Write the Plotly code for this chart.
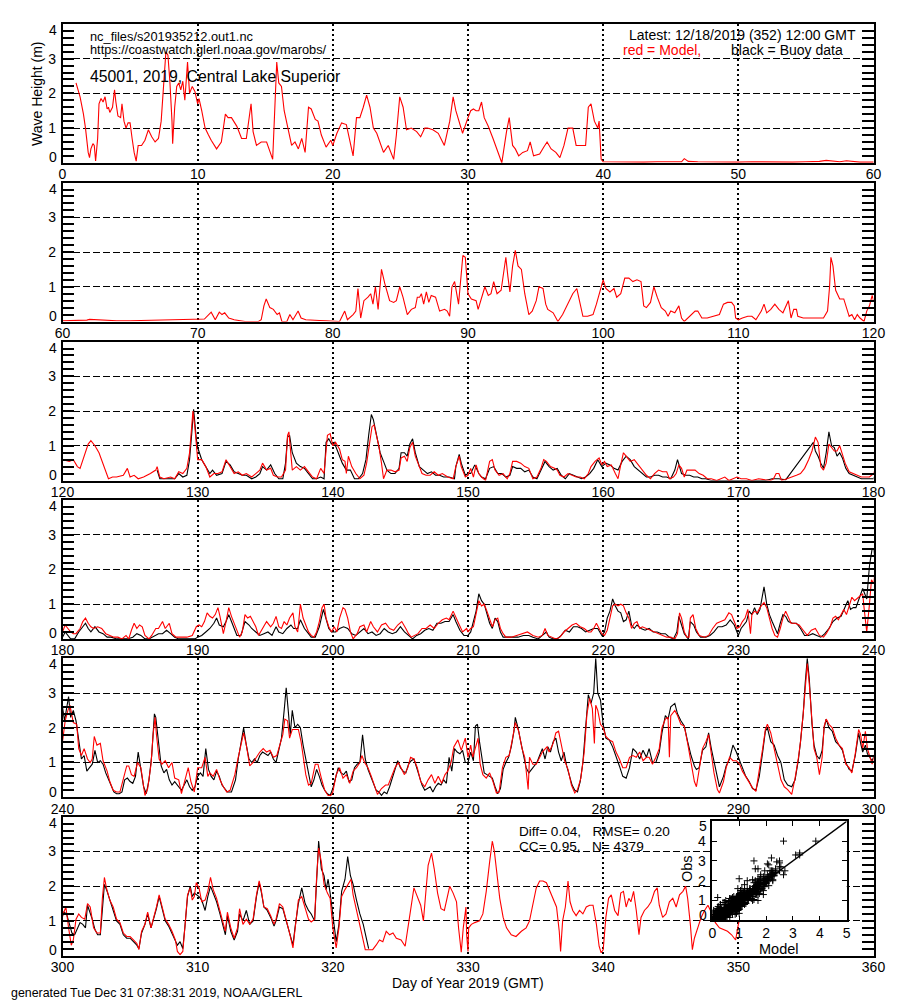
import numpy as np
import plotly.graph_objects as go

FONT = "Liberation Sans, Arial, Helvetica, sans-serif"

# ---------------- data (day of year, significant wave height in m) ----------------
model_p1 = [(1.0,2.3),(1.3,1.9),(1.55,1.4),(1.7,1.0),(1.9,0.3),(2.0,0.15),(2.1,0.4),(2.25,0.55),(2.35,0.5),(2.45,0.05),
 (2.6,0.7),(2.7,1.7),(2.85,1.85),(3.0,1.75),(3.15,1.9),(3.3,1.55),(3.4,1.6),(3.5,1.45),(3.7,1.6),(3.85,2.1),(3.95,1.75),
 (4.1,1.35),(4.3,1.3),(4.4,1.7),(4.55,1.2),(4.7,1.0),(4.85,1.15),(5.0,1.15),(5.15,0.7),(5.3,0.3),(5.45,0.05),(5.6,0.5),
 (5.85,0.5),(6.1,0.65),(6.35,0.95),(6.6,0.75),(6.85,0.6),(7.1,0.7),(7.3,1.2),(7.45,2.0),(7.65,3.2),(7.8,3.1),(7.95,2.3),
 (8.1,1.2),(8.15,0.55),(8.3,1.6),(8.45,2.2),(8.6,2.3),(8.75,2.1),(8.9,2.35),(9.05,1.8),(9.25,2.9),(9.4,2.0),(9.6,2.2),
 (9.8,2.05),(10.0,1.7),(10.1,1.85),(10.3,1.5),(10.55,1.0),(10.8,0.8),(11.0,0.65),(11.4,0.4),(11.75,0.6),(12.05,1.4),
 (12.25,1.3),(12.5,1.3),(12.9,1.05),(13.25,0.7),(13.6,0.7),(13.95,1.7),(14.1,0.9),(14.35,0.5),(14.7,0.6),(15.1,0.6),
 (15.35,0.35),(15.55,0.1),(15.7,1.5),(15.85,2.9),(16.0,2.3),(16.2,2.2),(16.4,1.5),(16.7,0.9),(16.95,0.5),(17.2,0.6),
 (17.45,0.4),(17.7,0.7),(17.95,0.3),(18.2,1.6),(18.4,1.55),(18.7,1.25),(18.9,1.2),(19.15,0.8),(19.5,0.45),(19.85,0.65),
 (20.0,0.5),(20.3,0.85),(20.65,1.15),(21.0,1.1),(21.25,0.6),(21.5,0.2),(21.75,1.3),(22.0,1.3),(22.25,1.6),(22.5,1.95),
 (22.75,1.6),(23.0,1.0),(23.25,0.85),(23.5,0.6),(23.75,0.3),(24.1,0.5),(24.5,0.1),(24.7,0.8),(24.95,1.9),(25.2,1.6),
 (25.45,0.95),(25.8,1.0),(26.2,0.9),(26.5,0.75),(26.8,1.0),(27.0,1.0),(27.4,0.95),(27.8,0.85),(28.25,0.5),(28.65,1.2),
 (28.9,1.9),(29.1,1.5),(29.4,1.1),(29.6,0.85),(30.0,1.3),(30.2,1.5),(30.4,1.55),(30.6,1.5),(30.8,1.5),(31.0,1.75),
 (31.2,1.3),(31.5,1.05),(31.85,0.7),(32.2,0.3),(32.5,0.0),(32.85,0.9),(33.05,1.3),(33.3,0.5),(33.5,0.4),(33.75,0.2),
 (34.05,0.3),(34.4,0.35),(34.6,0.6),(34.85,0.2),(35.3,0.25),(35.6,0.45),(35.85,0.6),(36.15,0.4),(36.5,0.3),(36.8,0.15),
 (37.1,0.5),(37.4,1.0),(37.75,1.0),(38.0,0.5),(38.35,0.5),(38.7,0.5),(38.9,1.6),(39.1,1.7),(39.35,1.2),(39.6,1.0),
 (39.7,1.2),(39.85,0.1),(40.0,0.03),(41.0,0.02),(42.0,0.02),(43.0,0.02),(44.0,0.03),(45.0,0.02),(45.8,0.03),(46.0,0.12),
 (46.3,0.04),(47.0,0.03),(48.0,0.02),(49.0,0.02),(50.0,0.02),(51.0,0.03),(52.0,0.02),(53.0,0.03),(54.0,0.02),(55.0,0.03),
 (56.0,0.04),(56.5,0.07),(57.0,0.04),(57.5,0.03),(58.0,0.06),(58.5,0.03),(59.0,0.02)]

model_p2 = [(60.0,0.02),(61.0,0.02),(61.8,0.04),(62.0,0.06),(62.5,0.05),(63.0,0.03),(64.0,0.02),(65.0,0.02),(66.0,0.03),
 (67.0,0.04),(68.0,0.03),(69.0,0.04),(69.6,0.05),(70.0,0.06),(70.5,0.07),(71.0,0.27),(71.3,0.05),(71.6,0.27),(71.8,0.2),
 (72.0,0.25),(72.3,0.1),(72.7,0.05),(73.5,0.0),(74.5,0.0),(74.7,0.05),(74.9,0.45),(75.07,0.65),(75.34,0.4),(75.6,0.35),
 (75.88,0.2),(76.05,0.25),(76.23,0.0),(76.6,0.0),(76.82,0.2),(77.05,0.05),(77.43,0.3),(77.65,0.1),(78.0,0.05),(78.5,0.03),
 (79.0,0.03),(79.5,0.02),(80.0,0.0),(80.5,0.0),(80.88,0.3),(81.08,0.05),(81.5,0.2),(81.7,0.3),(81.86,0.95),(82.06,0.1),
 (82.3,0.6),(82.6,0.7),(82.8,0.8),(82.97,0.5),(83.15,1.0),(83.35,0.35),(83.6,1.5),(83.84,1.1),(84.2,0.6),(84.5,0.55),
 (84.7,0.6),(84.95,1.0),(85.19,0.7),(85.51,0.2),(85.81,0.35),(86.1,0.4),(86.25,0.7),(86.42,0.7),(86.55,0.8),(86.72,0.5),
 (86.92,0.85),(87.1,0.55),(87.28,0.75),(87.6,0.7),(87.9,0.3),(88.27,0.35),(88.46,0.3),(88.64,0.15),(88.81,1.0),
 (89.01,1.15),(89.3,0.5),(89.62,1.9),(89.8,1.85),(90.0,0.8),(90.25,0.65),(90.6,0.6),(90.75,0.35),(91.0,0.7),(91.25,1.0),
 (91.5,0.75),(91.7,0.8),(91.9,1.15),(92.15,0.8),(92.45,0.9),(92.8,1.85),(92.95,1.3),(93.1,0.85),(93.3,1.6),(93.5,2.05),
 (93.7,1.6),(93.95,1.5),(94.2,0.8),(94.5,0.2),(94.75,0.3),(95.05,0.6),(95.25,1.0),(95.55,0.95),(95.75,0.5),(95.9,0.35),
 (96.3,0.25),(96.65,0.0),(97.0,0.2),(97.4,0.5),(97.75,0.8),(98.05,0.95),(98.3,0.5),(98.5,0.15),(98.85,0.15),(99.25,0.2),
 (99.5,0.5),(99.8,0.9),(100.0,1.2),(100.2,0.95),(100.5,0.85),(100.8,0.95),(101.0,0.7),(101.3,0.8),(101.6,1.25),
 (101.9,1.25),(102.2,1.15),(102.5,1.2),(102.8,1.15),(103.0,0.45),(103.2,0.4),(103.5,0.55),(103.75,1.0),(104.0,0.7),
 (104.3,0.4),(104.6,0.3),(104.8,0.15),(105.0,0.3),(105.3,0.25),(105.6,0.45),(105.8,0.1),(106.0,0.0),(106.4,0.15),
 (106.8,0.3),(107.0,0.3),(107.3,0.1),(107.7,0.1),(108.2,0.15),(108.6,0.2),(108.9,0.5),(109.2,0.55),(109.5,0.55),
 (109.7,0.45),(109.8,0.1),(110.0,0.05),(110.3,0.1),(110.7,0.15),(111.0,0.15),(111.3,0.05),(111.7,0.3),(111.9,0.5),
 (112.1,0.25),(112.4,0.35),(112.7,0.5),(113.0,0.35),(113.3,0.25),(113.7,0.6),(113.9,0.1),(114.1,0.35),(114.3,0.35),
 (114.4,0.15),(114.8,0.1),(115.5,0.1),(116.0,0.1),(116.3,0.1),(116.6,0.3),(116.75,1.0),(116.85,1.85),(117.0,1.6),
 (117.2,0.9),(117.5,0.65),(117.8,0.65),(118.0,0.4),(118.2,0.15),(118.4,0.2),(118.6,0.05),(118.8,0.2),(119.0,0.1),
 (119.3,0.0),(119.5,0.3),(119.7,0.45),(119.9,0.75)]

model_p3 = [(120.0,0.6),(120.5,0.55),(120.8,0.6),(121.1,0.4),(121.3,0.35),(121.6,0.7),(121.9,1.05),(122.1,1.15),(122.4,1.0),
 (122.7,0.8),(122.9,0.6),(123.2,0.3),(123.4,0.05),(123.7,0.1),(124.0,0.1),(124.5,0.15),(124.8,0.35),(125.0,0.1),
 (125.3,0.15),(125.6,0.05),(126.0,0.1),(126.5,0.2),(126.9,0.3),(127.0,0.4),(127.2,0.1),(127.5,0.05),(128.0,0.1),
 (128.3,0.05),(128.6,0.25),(128.9,0.2),(129.2,0.35),(129.4,0.8),(129.55,1.7),(129.65,2.0),(129.8,1.5),(130.0,0.6),
 (130.3,0.6),(130.6,0.4),(130.9,0.1),(131.2,0.2),(131.5,0.2),(131.8,0.25),(132.1,0.6),(132.4,0.4),(132.7,0.2),
 (133.0,0.25),(133.3,0.15),(133.6,0.2),(134.0,0.1),(134.3,0.2),(134.6,0.3),(134.8,0.5),(135.1,0.3),(135.4,0.35),
 (135.6,0.15),(135.9,0.1),(136.2,0.1),(136.5,0.3),(136.65,1.3),(136.75,1.4),(136.9,0.8),(137.0,0.3),(137.3,0.4),
 (137.6,0.3),(137.9,0.4),(138.2,0.25),(138.5,0.1),(138.8,0.05),(139.1,0.35),(139.35,0.2),(139.5,0.9),(139.6,1.3),
 (139.8,1.35),(140.0,1.0),(140.2,1.1),(140.5,0.9),(140.7,0.6),(140.9,0.55),(141.0,0.2),(141.15,0.7),(141.4,0.4),
 (141.7,0.2),(142.0,0.05),(142.3,0.15),(142.5,0.5),(142.7,1.1),(142.9,1.55),(143.05,1.6),(143.2,1.35),(143.4,1.0),
 (143.6,0.5),(143.75,0.05),(144.0,0.3),(144.3,0.3),(144.6,0.25),(144.9,0.3),(145.05,0.65),(145.3,0.7),(145.5,0.55),
 (145.7,0.95),(145.9,1.1),(146.1,0.7),(146.3,0.5),(146.6,0.2),(146.9,0.15),(147.2,0.15),(147.5,0.25),(147.8,0.15),
 (148.1,0.2),(148.5,0.1),(148.9,0.05),(149.1,0.4),(149.35,0.7),(149.5,0.4),(149.8,0.1),(150.0,0.15),(150.2,0.35),
 (150.4,0.1),(150.6,0.45),(150.8,0.2),(151.0,0.1),(151.3,0.0),(151.6,0.55),(151.8,0.6),(152.0,0.3),(152.3,0.15),
 (152.6,0.2),(152.9,0.05),(153.1,0.2),(153.3,0.55),(153.6,0.55),(153.9,0.5),(154.2,0.4),(154.5,0.35),(154.8,0.05),
 (155.1,0.1),(155.4,0.35),(155.6,0.6),(155.8,0.55),(156.1,0.4),(156.4,0.35),(156.6,0.3),(156.8,0.15),(157.1,0.1),
 (157.4,0.2),(157.7,0.15),(158.0,0.1),(158.3,0.1),(158.6,0.05),(158.9,0.2),(159.1,0.4),(159.4,0.55),(159.7,0.65),
 (159.9,0.45),(160.1,0.55),(160.3,0.4),(160.6,0.45),(160.9,0.2),(161.1,0.05),(161.3,0.45),(161.5,0.8),(161.7,0.7),
 (162.0,0.55),(162.3,0.6),(162.6,0.45),(162.9,0.3),(163.2,0.15),(163.5,0.05),(163.8,0.2),(164.1,0.3),(164.4,0.25),
 (164.7,0.25),(164.9,0.05),(165.2,0.1),(165.4,0.2),(165.6,0.45),(165.8,0.35),(166.0,0.1),(166.2,0.3),(166.5,0.3),
 (166.8,0.3),(167.1,0.2),(167.4,0.15),(167.7,0.05),(168.0,0.05),(168.4,0.0),(168.7,0.05),(169.0,0.1),(169.3,0.0),
 (169.6,0.05),(169.9,0.1),(170.2,0.05),(170.6,0.05),(171.0,0.0),(171.5,0.05),(172.0,0.02),(172.4,0.0),(172.6,0.05),
 (172.8,0.2),(173.0,0.2),(173.2,0.0),(173.6,0.05),(174.0,0.1),(174.3,0.15),(174.6,0.2),(174.9,0.35),(175.2,0.6),
 (175.45,0.85),(175.7,1.25),(175.9,1.1),(176.1,0.4),(176.3,0.3),(176.5,0.5),(176.7,1.05),(176.9,0.95),(177.1,0.85),
 (177.3,0.85),(177.5,1.0),(177.7,0.75),(177.9,0.5),(178.2,0.25),(178.5,0.2),(178.8,0.15),(179.1,0.1),(179.4,0.1),
 (179.7,0.1)]

model_p4 = [(180.0,0.2),(180.2,0.4),(180.4,0.3),(180.6,0.2),(180.8,0.15),(181.0,0.15),(181.3,0.3),(181.5,0.5),(181.7,0.6),
 (181.9,0.45),(182.1,0.35),(182.3,0.3),(182.6,0.35),(182.9,0.3),(183.2,0.15),(183.5,0.1),(183.8,0.05),(184.1,0.05),
 (184.4,0.0),(184.7,0.1),(184.9,0.0),(185.1,0.25),(185.3,0.45),(185.5,0.3),(185.7,0.4),(185.9,0.35),(186.1,0.1),
 (186.4,0.0),(186.6,0.1),(186.9,0.3),(187.1,0.3),(187.4,0.5),(187.6,0.3),(187.9,0.45),(188.1,0.15),(188.4,0.05),
 (188.8,0.05),(189.2,0.05),(189.6,0.1),(189.9,0.35),(190.1,0.4),(190.3,0.35),(190.5,0.5),(190.7,0.75),(190.9,0.65),
 (191.1,0.6),(191.3,0.7),(191.5,0.9),(191.65,0.65),(191.9,0.15),(192.1,0.5),(192.3,0.9),(192.5,0.65),(192.7,0.45),
 (192.9,0.25),(193.1,0.05),(193.3,0.2),(193.5,0.7),(193.7,0.6),(193.9,0.65),(194.1,0.5),(194.3,0.35),(194.5,0.1),
 (194.8,0.3),(195.1,0.5),(195.4,0.35),(195.6,0.45),(195.8,0.65),(196.0,0.35),(196.2,0.3),(196.4,0.5),(196.6,0.4),
 (196.8,0.6),(197.05,0.75),(197.2,0.35),(197.4,0.2),(197.6,1.0),(197.8,0.6),(198.0,0.4),(198.2,0.2),(198.4,0.1),
 (198.6,0.05),(198.8,0.2),(199.0,0.5),(199.2,0.9),(199.35,1.0),(199.5,0.6),(199.7,0.35),(199.9,0.2),(200.1,0.35),
 (200.3,0.2),(200.5,0.6),(200.75,0.9),(200.9,0.85),(201.1,0.6),(201.3,0.2),(201.5,0.0),(201.8,0.15),(202.0,0.35),
 (202.3,0.4),(202.5,0.2),(202.8,0.5),(203.0,0.35),(203.3,0.2),(203.6,0.4),(203.9,0.45),(204.2,0.3),(204.5,0.25),
 (204.8,0.4),(205.1,0.5),(205.4,0.3),(205.6,0.15),(205.8,0.05),(206.0,0.1),(206.3,0.15),(206.6,0.3),(206.9,0.3),
 (207.2,0.4),(207.5,0.3),(207.8,0.45),(208.1,0.55),(208.4,0.6),(208.6,0.55),(208.9,0.8),(209.1,0.6),(209.3,0.45),
 (209.6,0.2),(209.9,0.3),(210.0,0.2),(210.2,0.3),(210.4,0.35),(210.6,0.7),(210.8,1.1),(211.0,0.95),(211.2,1.0),
 (211.4,0.8),(211.6,0.55),(211.8,0.35),(212.0,0.55),(212.2,0.6),(212.4,0.3),(212.6,0.15),(212.8,0.05),(213.2,0.05),
 (213.6,0.1),(214.0,0.15),(214.4,0.2),(214.8,0.1),(215.2,0.05),(215.5,0.1),(215.7,0.3),(215.9,0.1),(216.2,0.05),
 (216.5,0.0),(216.8,0.05),(217.1,0.2),(217.4,0.3),(217.7,0.4),(218.0,0.45),(218.3,0.35),(218.6,0.3),(218.9,0.2),
 (219.1,0.2),(219.3,0.3),(219.5,0.45),(219.7,0.3),(219.9,0.15),(220.1,0.1),(220.3,0.25),(220.5,0.6),(220.7,0.95),
 (220.9,1.0),(221.1,0.95),(221.3,1.0),(221.5,0.95),(221.7,0.75),(221.9,0.6),(222.1,0.3),(222.3,0.45),(222.5,0.5),
 (222.7,0.3),(222.9,0.35),(223.2,0.3),(223.5,0.25),(223.8,0.2),(224.1,0.15),(224.4,0.1),(224.7,0.05),(225.0,0.05),
 (225.3,0.0),(225.5,0.15),(225.65,0.75),(225.8,0.6),(226.0,0.2),(226.2,0.05),(226.35,0.05),(226.45,0.6),(226.65,0.7),
 (226.85,0.3),(227.1,0.1),(227.5,0.05),(227.8,0.1),(228.1,0.3),(228.4,0.45),(228.7,0.5),(229.0,0.55),(229.3,0.75),
 (229.5,0.7),(229.7,0.5),(229.9,0.3),(230.1,0.35),(230.3,0.5),(230.5,0.6),(230.7,0.85),(230.8,0.5),(230.9,0.15),
 (231.0,0.7),(231.2,0.8),(231.4,0.75),(231.6,0.9),(231.9,1.05),(232.1,0.9),(232.3,0.6),(232.5,0.3),(232.7,0.1),
 (232.9,0.05),(233.1,0.3),(233.3,0.6),(233.5,0.8),(233.7,0.6),(233.9,0.45),(234.2,0.45),(234.5,0.4),(234.8,0.25),
 (235.1,0.1),(235.4,0.25),(235.7,0.3),(236.0,0.1),(236.3,0.05),(236.5,0.15),(236.8,0.35),(237.0,0.6),(237.2,0.65),
 (237.4,0.55),(237.6,0.7),(237.8,0.85),(238.0,0.7),(238.2,0.95),(238.4,1.2),(238.6,1.1),(238.9,1.2),(239.2,1.3),
 (239.3,0.9),(239.4,0.6),(239.5,0.2),(239.7,1.0),(239.85,1.7)]

model_p5 = [(240.0,1.6),(240.2,2.2),(240.4,2.5),(240.55,2.65),(240.8,2.15),(241.05,2.1),(241.2,1.4),(241.4,1.2),
 (241.6,1.4),(241.85,1.1),(242.05,1.0),(242.2,1.1),(242.35,1.75),(242.55,1.5),(242.8,1.55),(243.0,1.05),(243.3,0.75),
 (243.5,0.45),(243.75,0.2),(244.0,0.15),(244.25,0.15),(244.5,0.55),(244.75,0.9),(244.9,0.9),(245.1,0.65),(245.3,0.6),
 (245.55,1.0),(245.8,0.85),(246.0,0.25),(246.1,0.05),(246.3,0.25),(246.55,0.95),(246.7,1.8),(246.85,2.3),(246.95,1.8),
 (247.15,1.1),(247.35,0.95),(247.6,1.05),(247.85,0.85),(248.1,1.0),(248.3,0.55),(248.6,0.5),(248.8,0.1),(249.05,0.45),
 (249.3,0.85),(249.5,0.45),(249.75,0.15),(250.0,0.85),(250.3,0.85),(250.55,1.15),(250.75,0.6),(250.9,0.7),(251.15,0.6),
 (251.4,0.8),(251.65,0.5),(251.9,0.3),(252.15,0.15),(252.4,0.2),(252.75,0.65),(253.0,1.15),(253.25,1.6),(253.4,1.85),
 (253.6,1.5),(253.85,0.9),(254.1,1.0),(254.35,1.15),(254.6,1.3),(254.85,1.4),(255.1,1.3),(255.35,1.35),(255.6,1.15),
 (255.85,1.2),(256.1,1.55),(256.3,1.8),(256.45,2.25),(256.65,2.2),(256.8,1.7),(257.0,1.95),(257.2,1.95),(257.45,1.95),
 (257.65,1.6),(257.8,1.2),(258.0,0.65),(258.2,0.35),(258.4,0.4),(258.7,0.95),(258.9,0.95),(259.15,0.55),(259.4,0.2),
 (259.65,0.05),(259.85,0.05),(260.0,0.15),(260.25,0.65),(260.5,0.85),(260.75,0.55),(261.0,0.65),(261.25,0.4),
 (261.5,0.75),(261.75,0.85),(262.0,1.0),(262.15,1.2),(262.35,1.0),(262.6,0.85),(262.85,0.6),(263.1,0.3),(263.3,0.08),
 (263.6,0.25),(263.9,0.35),(264.1,0.35),(264.35,0.6),(264.6,0.85),(264.85,1.0),(265.1,0.8),(265.3,0.65),(265.55,0.85),
 (265.75,1.15),(266.0,1.1),(266.25,0.85),(266.5,0.45),(266.8,0.3),(267.05,0.5),(267.3,0.65),(267.55,0.4),(267.8,0.6),
 (268.05,0.4),(268.3,0.65),(268.5,0.75),(268.75,1.0),(268.95,1.45),(269.25,1.65),(269.5,1.35),(269.8,1.7),(270.0,1.15),
 (270.2,1.5),(270.35,1.15),(270.6,1.5),(270.75,1.7),(270.9,0.95),(271.1,0.65),(271.35,0.55),(271.6,0.7),(271.85,0.45),
 (272.1,0.12),(272.3,0.15),(272.55,0.85),(272.8,1.15),(273.05,1.2),(273.3,1.7),(273.5,2.15),(273.75,1.9),(274.0,1.4),
 (274.2,1.15),(274.3,0.7),(274.45,0.22),(274.55,1.15),(274.8,0.95),(275.05,0.95),(275.3,1.15),(275.5,1.3),
 (275.85,1.45),(276.0,1.3),(276.3,1.55),(276.5,1.85),(276.7,1.9),(276.9,1.5),(277.15,1.05),(277.4,0.8),(277.65,0.35),
 (277.9,0.12),(278.1,0.22),(278.35,0.55),(278.6,1.3),(278.8,2.4),(279.0,2.85),(279.2,2.55),(279.35,1.55),(279.45,2.65),
 (279.6,2.5),(279.8,2.1),(280.0,2.0),(280.2,1.75),(280.45,1.65),(280.7,1.6),(280.95,1.3),(281.2,1.1),(281.45,0.85),
 (281.7,0.85),(281.95,1.15),(282.2,1.2),(282.45,1.15),(282.7,1.3),(282.95,1.05),(283.2,1.15),(283.4,1.15),(283.65,0.95),
 (283.9,1.15),(284.15,1.4),(284.35,2.0),(284.6,2.25),(284.8,2.3),(284.9,1.15),(285.0,2.35),(285.3,2.5),(285.5,2.35),
 (285.75,2.1),(286.0,2.05),(286.25,1.55),(286.5,0.95),(286.75,0.45),(286.9,0.3),(287.1,0.85),(287.35,1.4),(287.6,1.6),
 (287.8,1.8),(288.0,1.25),(288.2,0.7),(288.45,0.22),(288.6,0.12),(288.9,0.45),(289.1,0.85),(289.35,1.15),(289.6,1.05),
 (289.85,1.05),(290.1,0.95),(290.3,0.75),(290.55,0.6),(290.8,0.45),(291.05,0.27),(291.3,0.17),(291.55,0.75),(291.8,1.4),
 (292.0,1.95),(292.15,2.1),(292.4,1.85),(292.65,1.4),(292.9,0.95),(293.15,0.5),(293.4,0.3),(293.65,0.22),(293.95,0.08),
 (294.2,0.55),(294.45,1.15),(294.6,1.6),(294.8,2.4),(294.95,3.25),(295.1,3.85),(295.25,3.25),(295.45,2.0),(295.6,1.4),
 (295.8,1.15),(296.0,0.65),(296.2,1.15),(296.35,2.05),(296.5,2.25),(296.7,2.1),(296.95,2.0),(297.2,1.7),(297.45,1.5),
 (297.7,1.4),(297.95,0.95),(298.2,0.85),(298.4,0.7),(298.65,1.25),(298.9,1.95),(299.05,1.8),(299.2,1.4),(299.4,1.9),
 (299.55,1.4),(299.9,0.95)]

model_p6 = [(300.05,1.2),(300.25,1.4),(300.45,0.8),(300.65,0.3),(300.8,0.45),(301.0,1.05),(301.2,1.2),(301.4,1.1),
 (301.65,1.05),(301.85,1.5),(302.05,1.4),(302.3,0.8),(302.55,0.65),(302.8,0.65),(302.95,1.65),(303.1,2.25),(303.25,1.95),
 (303.5,1.6),(303.75,1.4),(304.0,1.05),(304.25,0.95),(304.5,0.65),(304.75,0.55),(305.0,0.55),(305.25,0.45),(305.5,0.35),
 (305.65,0.17),(305.85,0.7),(306.1,0.9),(306.3,1.25),(306.55,0.8),(306.8,1.15),(306.95,1.4),(307.15,1.75),(307.35,1.4),
 (307.6,1.05),(307.85,0.9),(308.1,0.7),(308.35,0.45),(308.5,0.12),(308.7,0.03),(308.9,0.12),(309.05,0.8),(309.25,1.75),
 (309.45,1.95),(309.6,1.6),(309.75,1.7),(309.9,2.1),(310.1,1.95),(310.3,1.55),(310.55,1.6),(310.75,1.85),(310.95,2.25),
 (311.15,1.9),(311.4,1.65),(311.65,1.3),(311.9,0.95),(312.05,0.7),(312.2,1.25),(312.45,0.8),(312.7,0.5),(312.95,0.8),
 (313.1,1.35),(313.35,0.9),(313.6,1.05),(313.85,0.9),(314.1,1.05),(314.35,1.75),(314.55,2.15),(314.7,1.9),(314.9,1.4),
 (315.15,1.35),(315.4,1.15),(315.65,0.9),(315.8,1.05),(316.05,1.5),(316.3,1.4),(316.55,1.05),(316.8,0.65),(317.05,0.22),
 (317.2,0.8),(317.45,1.6),(317.7,1.7),(317.95,1.4),(318.2,1.05),(318.4,0.97),(318.65,1.05),(318.8,2.25),(318.95,3.1),
 (319.15,2.7),(319.35,2.05),(319.6,1.8),(319.8,1.65),(320.0,0.8),(320.25,0.22),(320.45,0.8),(320.65,1.7),(320.9,1.9),
 (321.1,2.05),(321.35,2.2),(321.5,1.75),(321.75,1.3),(322.0,0.9),(322.25,0.4),(322.4,0.17),(322.65,0.17),(322.95,0.17),
 (323.2,0.3),(323.45,0.45),(323.7,0.4),(323.95,0.7),(324.2,0.6),(324.45,0.65),(324.7,0.5),(325.05,0.45),(325.35,0.27),
 (325.6,0.9),(325.8,1.45),(326.0,1.95),(326.2,1.75),(326.5,1.45),(326.7,1.0),(326.85,1.65),(327.05,2.6),(327.3,2.95),
 (327.5,2.5),(327.75,1.8),(328.0,1.35),(328.25,1.3),(328.5,1.75),(328.65,2.0),(328.9,1.8),(329.15,1.55),(329.3,0.8),
 (329.5,0.1),(329.65,0.8),(329.85,1.4),(329.9,0.6),(330.0,0.12),(330.05,0.8),(330.25,0.9),(330.5,0.95),(330.85,1.0),
 (331.1,1.2),(331.35,1.85),(331.6,2.7),(331.8,3.3),(331.95,3.0),(332.15,2.35),(332.35,1.65),(332.6,1.1),(332.85,0.8),
 (333.2,0.6),(333.55,0.55),(333.95,0.7),(334.3,0.8),(334.55,1.0),(334.8,1.45),(335.05,1.95),(335.3,2.15),(335.55,2.15),
 (335.8,2.1),(336.05,1.85),(336.3,1.6),(336.55,1.4),(336.75,0.7),(336.85,0.12),(337.0,1.0),(337.2,1.4),(337.4,2.15),
 (337.55,1.55),(337.75,1.3),(338.0,1.15),(338.25,1.3),(338.5,1.2),(338.75,1.4),(339.0,1.45),(339.25,1.45),(339.5,0.9),
 (339.7,0.27),(339.85,0.08),(340.0,0.17),(340.2,1.1),(340.4,1.65),(340.6,1.75),(340.85,1.3),(341.1,1.15),(341.3,1.8),
 (341.5,1.85),(341.7,1.4),(341.9,1.65),(342.05,1.55),(342.25,1.85),(342.45,1.3),(342.65,0.6),(342.8,1.1),(343.05,1.3),
 (343.3,1.4),(343.55,1.55),(343.8,1.85),(344.0,1.95),(344.15,1.45),(344.4,1.1),(344.65,1.2),(344.9,1.55),(345.15,1.65),
 (345.4,1.4),(345.65,1.75),(345.9,1.85),(346.1,2.0),(346.25,1.65),(346.45,0.9),(346.6,0.17),(346.75,0.5),(347.0,0.8),
 (347.25,1.1),(347.5,1.3),(347.75,1.45),(348.0,1.25),(348.3,0.95),(348.6,0.8),(348.9,0.75),(349.2,0.7),(349.5,0.6),
 (349.8,0.45),(350.0,0.9),(350.3,1.3),(350.6,1.5),(350.9,1.25),(351.2,1.35),(351.5,1.6),(351.8,1.85),(352.0,1.45),
 (352.2,1.9),(352.4,1.6),(352.5,1.5)]

obs_p3 = [(127.0,0.3),(127.2,0.05),(127.6,0.05),(128.0,0.05),(128.3,0.05),(128.6,0.2),(128.9,0.1),(129.2,0.15),(129.4,0.6),
 (129.55,1.3),(129.7,2.05),(129.9,1.2),(130.0,0.95),(130.3,0.6),(130.6,0.4),(130.9,0.2),(131.1,0.3),(131.4,0.15),
 (131.8,0.2),(132.1,0.55),(132.4,0.45),(132.7,0.25),(133.0,0.2),(133.3,0.15),(133.6,0.15),(134.0,0.05),(134.3,0.1),
 (134.6,0.2),(134.8,0.4),(135.1,0.3),(135.4,0.45),(135.7,0.2),(136.0,0.05),(136.3,0.05),(136.5,0.5),(136.65,1.25),
 (136.8,1.3),(137.0,0.8),(137.3,0.5),(137.6,0.4),(137.9,0.35),(138.2,0.2),(138.5,0.05),(138.8,0.05),(139.1,0.1),
 (139.35,0.05),(139.5,1.1),(139.7,1.2),(139.9,1.05),(140.1,1.1),(140.4,0.8),(140.7,0.5),(141.0,0.3),(141.3,0.3),
 (141.6,0.05),(141.9,0.05),(142.2,0.2),(142.45,0.6),(142.65,1.3),(142.85,1.9),(143.0,1.75),(143.2,1.4),(143.5,0.8),
 (143.8,0.5),(144.0,0.3),(144.3,0.2),(144.6,0.2),(144.9,0.35),(145.05,0.8),(145.3,0.8),(145.5,0.7),(145.7,1.05),
 (145.9,1.2),(146.1,0.8),(146.4,0.4),(146.7,0.3),(147.0,0.2),(147.3,0.25),(147.6,0.15),(147.9,0.15),(148.2,0.1),
 (148.6,0.1),(149.0,0.05),(149.1,0.4),(149.35,0.75),(149.5,0.5),(149.8,0.15),(150.0,0.2),(150.2,0.2),(150.5,0.45),
 (150.8,0.2),(151.0,0.1),(151.3,0.05),(151.6,0.35),(151.9,0.4),(152.2,0.2),(152.5,0.2),(152.8,0.1),(153.1,0.15),
 (153.3,0.4),(153.6,0.35),(153.9,0.35),(154.2,0.25),(154.5,0.3),(154.8,0.1),(155.1,0.05),(155.4,0.3),(155.7,0.55),
 (156.0,0.4),(156.3,0.3),(156.6,0.35),(156.9,0.15),(157.2,0.05),(157.5,0.2),(157.8,0.15),(158.1,0.1),(158.4,0.05),
 (158.7,0.1),(159.0,0.2),(159.3,0.35),(159.6,0.6),(159.9,0.4),(160.2,0.5),(160.5,0.45),(160.8,0.35),(161.1,0.3),
 (161.4,0.55),(161.7,0.7),(162.0,0.6),(162.3,0.4),(162.6,0.3),(162.9,0.2),(163.2,0.1),(163.5,0.1),(163.8,0.15),
 (164.1,0.15),(164.4,0.1),(164.7,0.1),(165.0,0.05),(165.3,0.3),(165.5,0.6),(165.8,0.2),(166.1,0.15),(166.4,0.15),
 (166.7,0.1),(167.0,0.1),(167.3,0.05),(167.6,0.05),(168.0,0.0),(168.5,0.0),(169.0,0.0),(169.5,0.0),(170.0,0.0),
 (170.5,0.0),(171.0,0.0),(171.5,0.0),(172.0,0.0),(172.5,0.05),(173.0,0.05),(173.5,0.02),(175.55,1.1),(175.7,0.85),
 (175.9,0.7),(176.1,0.5),(176.3,0.35),(176.5,0.8),(176.7,1.4),(176.9,1.0),(177.1,0.95),(177.3,0.7),(177.5,0.8),
 (177.7,0.65),(177.95,0.35),(178.2,0.2),(178.5,0.15),(178.8,0.1),(179.1,0.05),(179.4,0.05),(179.7,0.05)]

obs_p4 = [(180.0,0.05),(180.2,0.2),(180.4,0.1),(180.6,0.0),(180.9,0.0),(181.2,0.2),(181.5,0.35),(181.7,0.45),(181.9,0.3),
 (182.1,0.2),(182.4,0.35),(182.7,0.2),(183.0,0.15),(183.3,0.05),(183.6,0.05),(184.0,0.0),(184.4,0.0),(184.8,0.0),
 (185.2,0.05),(185.5,0.15),(185.8,0.1),(186.1,0.0),(186.4,0.0),(186.8,0.1),(187.1,0.15),(187.4,0.15),(187.7,0.25),
 (188.0,0.15),(188.3,0.05),(188.6,0.0),(189.0,0.0),(189.4,0.0),(189.8,0.0),(190.0,0.05),(190.3,0.1),(190.6,0.2),
 (190.9,0.3),(191.2,0.45),(191.4,0.6),(191.6,0.4),(191.9,0.35),(192.1,0.5),(192.3,0.7),(192.5,0.5),(192.7,0.3),
 (192.9,0.1),(193.2,0.1),(193.5,0.5),(193.8,0.4),(194.0,0.3),(194.3,0.2),(194.6,0.1),(194.9,0.15),(195.2,0.2),
 (195.5,0.1),(195.8,0.35),(196.0,0.2),(196.3,0.15),(196.6,0.3),(196.9,0.4),(197.1,0.3),(197.4,0.3),(197.6,0.55),
 (197.9,0.3),(198.1,0.2),(198.4,0.05),(198.7,0.05),(199.0,0.35),(199.3,0.85),(199.5,0.55),(199.7,0.3),(199.9,0.2),
 (200.2,0.2),(200.5,0.3),(200.8,0.35),(201.1,0.3),(201.4,0.15),(201.7,0.1),(202.0,0.2),(202.3,0.3),(202.6,0.15),
 (202.9,0.2),(203.2,0.1),(203.5,0.15),(203.8,0.3),(204.1,0.2),(204.4,0.15),(204.7,0.2),(205.0,0.35),(205.3,0.2),
 (205.6,0.1),(205.9,0.0),(206.2,0.1),(206.5,0.15),(206.8,0.25),(207.1,0.3),(207.4,0.25),(207.7,0.45),(208.0,0.45),
 (208.3,0.5),(208.6,0.5),(208.9,0.7),(209.1,0.5),(209.4,0.25),(209.7,0.1),(210.0,0.1),(210.2,0.2),(210.4,0.5),
 (210.6,0.8),(210.8,1.3),(211.0,1.1),(211.2,1.0),(211.4,0.75),(211.6,0.45),(211.8,0.3),(212.0,0.6),(212.2,0.5),
 (212.4,0.2),(212.6,0.05),(212.9,0.05),(213.3,0.05),(213.7,0.05),(214.1,0.1),(214.5,0.1),(214.8,0.05),(215.2,0.0),
 (215.5,0.1),(215.8,0.2),(216.0,0.05),(216.3,0.0),(216.6,0.0),(216.9,0.1),(217.2,0.25),(217.5,0.2),(217.8,0.35),
 (218.1,0.35),(218.4,0.3),(218.7,0.2),(219.0,0.25),(219.3,0.3),(219.6,0.3),(219.9,0.1),(220.1,0.2),(220.3,0.6),
 (220.5,0.8),(220.7,1.15),(220.9,0.95),(221.1,0.8),(221.3,0.75),(221.5,0.5),(221.7,0.55),(221.9,0.8),(222.1,0.4),
 (222.3,0.3),(222.5,0.4),(222.8,0.3),(223.1,0.25),(223.4,0.3),(223.7,0.2),(224.0,0.2),(224.3,0.15),(224.6,0.15),
 (224.9,0.05),(225.2,0.0),(225.45,0.2),(225.6,0.65),(225.8,0.4),(226.0,0.15),(226.3,0.0),(226.45,0.5),(226.7,0.4),
 (226.9,0.2),(227.2,0.05),(227.6,0.05),(227.9,0.1),(228.2,0.2),(228.5,0.35),(228.8,0.35),(229.1,0.4),(229.4,0.55),
 (229.7,0.4),(230.0,0.1),(230.2,0.3),(230.4,0.4),(230.6,0.5),(230.8,0.8),(231.0,0.7),(231.2,0.9),(231.4,0.7),
 (231.6,0.85),(231.9,1.5),(232.1,1.0),(232.3,0.7),(232.5,0.5),(232.7,0.3),(232.9,0.15),(233.1,0.45),(233.3,0.7),
 (233.5,0.65),(233.7,0.5),(234.0,0.45),(234.3,0.45),(234.6,0.3),(234.9,0.1),(235.2,0.1),(235.5,0.15),(235.8,0.1),
 (236.1,0.05),(236.4,0.15),(236.7,0.3),(237.0,0.5),(237.3,0.6),(237.6,0.65),(237.9,0.9),(238.1,1.1),(238.3,0.85),
 (238.5,0.9),(238.7,0.9),(238.9,1.1),(239.2,1.45),(239.5,1.15),(239.7,2.1),(239.9,2.6)]

obs_p5 = [(240.0,2.6),(240.15,2.2),(240.3,2.5),(240.45,2.9),(240.6,2.3),(240.8,2.5),(241.0,2.2),(241.2,1.6),(241.4,1.1),
 (241.6,1.2),(241.8,0.75),(242.0,0.85),(242.2,0.95),(242.4,1.35),(242.6,1.0),(242.8,1.05),(243.0,0.95),(243.2,0.7),
 (243.4,0.5),(243.6,0.3),(243.8,0.15),(244.0,0.1),(244.2,0.1),(244.4,0.15),(244.6,0.5),(244.8,0.55),(245.0,0.45),
 (245.2,0.4),(245.4,0.6),(245.6,1.3),(245.8,0.8),(246.0,0.3),(246.2,0.1),(246.4,0.5),(246.6,1.2),(246.8,2.4),
 (246.9,2.3),(247.1,1.6),(247.3,0.9),(247.5,0.7),(247.7,0.8),(247.9,0.5),(248.1,0.35),(248.3,0.45),(248.6,0.3),
 (248.8,0.2),(249.0,0.35),(249.2,0.5),(249.4,0.3),(249.6,0.2),(249.8,0.3),(250.0,0.6),(250.2,0.7),(250.4,0.6),
 (250.6,1.4),(250.8,0.8),(251.0,0.6),(251.2,0.5),(251.4,0.75),(251.6,0.6),(251.8,0.35),(252.0,0.25),(252.2,0.15),
 (252.5,0.15),(252.8,0.5),(253.0,1.1),(253.2,1.5),(253.4,2.0),(253.6,1.5),(253.8,1.1),(254.0,1.0),(254.2,1.1),
 (254.4,1.0),(254.6,1.2),(254.8,1.3),(255.0,1.25),(255.2,1.2),(255.4,1.3),(255.6,1.1),(255.8,1.0),(256.0,1.35),
 (256.2,1.7),(256.4,2.5),(256.55,3.15),(256.7,2.5),(256.85,1.8),(257.0,2.5),(257.2,2.0),(257.4,2.1),(257.6,2.0),
 (257.8,1.5),(258.0,1.1),(258.2,0.6),(258.4,0.3),(258.6,0.5),(258.8,0.8),(259.0,0.6),(259.2,0.35),(259.4,0.2),
 (259.6,0.1),(259.8,0.05),(260.0,0.25),(260.2,0.55),(260.4,0.85),(260.6,0.7),(260.8,0.65),(261.0,0.75),(261.2,0.45),
 (261.4,0.5),(261.6,0.85),(261.8,0.95),(262.0,1.0),(262.2,1.8),(262.4,1.1),(262.6,0.8),(262.8,0.6),(263.0,0.45),
 (263.2,0.2),(263.4,0.15),(263.6,0.05),(263.8,0.15),(264.0,0.1),(264.2,0.3),(264.4,0.55),(264.6,0.8),(264.8,1.05),
 (265.0,0.85),(265.2,0.75),(265.4,0.7),(265.6,0.95),(265.8,1.05),(266.0,1.1),(266.2,0.85),(266.4,0.6),(266.6,0.35),
 (266.8,0.2),(267.0,0.25),(267.2,0.3),(267.4,0.15),(267.6,0.3),(267.8,0.4),(268.0,0.35),(268.2,0.5),(268.4,0.4),
 (268.6,1.15),(268.8,0.75),(269.0,1.4),(269.2,1.3),(269.4,1.25),(269.6,1.35),(269.8,1.0),(270.0,1.0),(270.2,1.3),
 (270.4,1.05),(270.55,2.05),(270.7,2.1),(270.85,1.6),(271.0,1.2),(271.2,0.7),(271.4,0.65),(271.6,0.6),(271.8,0.55),
 (272.0,0.3),(272.2,0.1),(272.4,0.25),(272.6,0.8),(272.8,1.0),(273.0,1.15),(273.2,1.45),(273.4,1.9),(273.5,2.3),
 (273.7,2.0),(273.9,1.6),(274.1,1.25),(274.3,0.85),(274.5,0.7),(274.7,0.8),(274.9,0.9),(275.1,1.0),(275.3,1.2),
 (275.5,1.4),(275.7,1.1),(275.9,1.45),(276.1,1.3),(276.3,1.6),(276.5,1.7),(276.7,1.3),(276.9,1.05),(277.1,1.3),
 (277.3,0.9),(277.5,0.6),(277.7,0.35),(277.9,0.2),(278.1,0.15),(278.3,0.45),(278.5,1.0),(278.7,2.0),(278.9,2.95),
 (279.1,2.7),(279.3,3.0),(279.45,4.0),(279.6,3.0),(279.8,2.8),(280.0,2.1),(280.2,1.7),(280.45,1.65),(280.7,1.45),
 (280.95,1.2),(281.2,0.9),(281.45,0.6),(281.7,0.55),(281.95,0.85),(282.2,1.4),(282.45,1.3),(282.7,1.1),(282.95,1.35),
 (283.2,1.15),(283.4,1.4),(283.65,1.0),(283.9,1.0),(284.15,1.3),(284.35,1.85),(284.6,2.35),(284.8,2.25),(285.0,2.6),
 (285.3,2.7),(285.5,2.4),(285.75,2.2),(286.0,2.05),(286.25,1.6),(286.5,1.2),(286.75,0.9),(286.9,0.8),(287.1,0.85),
 (287.35,1.35),(287.6,1.45),(287.8,1.85),(288.0,1.4),(288.2,1.0),(288.45,0.55),(288.6,0.3),(288.9,0.6),(289.1,0.9),
 (289.35,1.1),(289.6,1.5),(289.85,1.3),(290.1,1.05),(290.3,0.85),(290.55,0.6),(290.8,0.45),(291.05,0.25),(291.3,0.2),
 (291.55,0.6),(291.8,1.3),(292.0,1.9),(292.15,2.0),(292.4,1.6),(292.65,1.5),(292.9,1.2),(293.15,1.0),(293.4,0.5),
 (293.65,0.35),(293.95,0.3),(294.2,0.5),(294.45,1.1),(294.6,1.6),(294.8,2.4),(294.95,3.3),(295.1,4.0),(295.25,3.4),
 (295.45,2.1),(295.6,1.5),(295.8,1.2),(296.0,1.1),(296.2,1.35),(296.35,2.0),(296.5,2.25),(296.7,2.0),(296.95,1.9),
 (297.2,1.6),(297.45,1.5),(297.7,1.35),(297.95,1.0),(298.2,0.8),(298.4,0.75),(298.65,1.2),(298.9,1.85),(299.05,1.55),
 (299.2,1.3),(299.4,1.5),(299.55,1.25),(299.9,1.05)]

obs_p6 = [(300.1,1.25),(300.3,1.2),(300.5,0.9),(300.7,0.65),(300.9,0.6),(301.1,0.8),(301.3,0.95),(301.5,0.9),(301.7,0.8),
 (301.85,1.45),(302.0,1.3),(302.2,1.05),(302.4,0.75),(302.6,0.6),(302.8,0.6),(302.95,1.4),(303.1,2.05),(303.3,1.85),
 (303.5,1.6),(303.75,1.35),(304.0,1.0),(304.25,0.9),(304.5,0.6),(304.75,0.5),(305.0,0.5),(305.25,0.4),(305.5,0.3),
 (305.65,0.2),(305.85,0.65),(306.1,0.9),(306.3,1.2),(306.55,0.8),(306.8,1.1),(306.95,1.35),(307.15,1.7),(307.35,1.35),
 (307.6,1.0),(307.85,0.85),(308.1,0.65),(308.35,0.45),(308.5,0.3),(308.7,0.4),(308.9,0.2),(309.05,0.8),(309.25,1.7),
 (309.45,2.0),(309.6,1.7),(309.75,1.8),(309.9,1.75),(310.1,1.7),(310.3,1.6),(310.55,1.3),(310.75,1.7),(310.95,2.0),
 (311.15,1.8),(311.4,1.55),(311.65,1.2),(311.9,0.85),(312.05,0.6),(312.2,1.15),(312.45,0.7),(312.7,0.45),(312.95,0.7),
 (313.1,1.2),(313.35,1.0),(313.6,1.3),(313.85,0.9),(314.1,1.0),(314.35,1.7),(314.55,2.1),(314.7,1.85),(314.9,1.4),
 (315.15,1.3),(315.4,1.1),(315.65,0.85),(315.8,1.0),(316.05,1.4),(316.3,1.35),(316.55,1.0),(316.8,0.6),(317.05,0.3),
 (317.2,0.8),(317.45,1.5),(317.7,1.95),(317.95,1.5),(318.2,1.3),(318.4,1.2),(318.65,1.0),(318.8,2.4),(318.95,3.3),
 (319.15,2.5),(319.35,2.3),(319.5,1.9),(319.65,2.2),(319.8,1.8),(320.0,1.2),(320.25,0.4),(320.45,0.9),(320.65,1.85),
 (320.9,2.2),(321.1,2.85),(321.3,2.3),(321.5,2.05),(321.75,1.6),(322.0,1.2),(322.25,0.9),(322.45,0.5),(322.65,0.2)]

stats_lines = ["Diff= 0.04,   RMSE= 0.20", "CC= 0.95,   N= 4379"]
panel_starts = [0, 60, 120, 180, 240, 300]
y_ticks = [0, 1, 2, 3, 4]
inset_ticks = [0, 1, 2, 3, 4, 5]

# ---------------- assemble ----------------
model = model_p1 + model_p2 + model_p3 + model_p4 + model_p5 + model_p6
obs = obs_p3 + obs_p4 + obs_p5 + obs_p6
mt = np.array([p[0] for p in model]); mv = np.array([p[1] for p in model])
ot = np.array([p[0] for p in obs]); ov = np.array([p[1] for p in obs])

# model vs obs pairs: nearest model sample for each buoy sample
idx = np.abs(mt[None, :] - ot[:, None]).argmin(axis=1)
ok = np.abs(mt[idx] - ot) < 0.3
sc_model = mv[idx][ok]
sc_obs = ov[ok]

# The page shows the figure 8 px in from the top-left corner of the window,
# so the figure is 8 px smaller and page coordinates are shifted by 8.
OFF = 8
W, H = 900 - OFF, 1001 - OFF

def fx(px):
    return (px - OFF) / W

def fy(py):
    return 1 - (py - OFF) / H

x_dom = [fx(62.5), fx(873.5)]
tops = [23.9, 182.6, 341.6, 500.0, 658.3, 816.7]
ph = 138.9
DOT = "2px,3px"
DASH = "7px,3px"
TF = dict(size=14, family=FONT, color="black")

fig = go.Figure()
layout = dict(width=W, height=H, margin=dict(l=0, r=0, t=0, b=0, autoexpand=False),
              paper_bgcolor="white", plot_bgcolor="white", showlegend=False,
              font=dict(family=FONT, color="black", size=14))
annots = []

def ann(text, px, py, size, color="black", xanchor="left", angle=0):
    return dict(text=text, x=fx(px), y=fy(py), xref="paper", yref="paper", showarrow=False,
                xanchor=xanchor, yanchor="middle", textangle=angle,
                font=dict(family=FONT, size=size, color=color))

for i, s in enumerate(panel_starts):
    n = "" if i == 0 else str(i + 1)
    t = tops[i]
    ydom = [fy(t + ph), fy(t)]
    layout["xaxis" + n] = dict(domain=x_dom, range=[s, s + 60], anchor="y" + n, tick0=0, dtick=10,
                               showgrid=True, gridcolor="black", griddash=DOT, gridwidth=1.5,
                               showline=True, linecolor="black", linewidth=1.5, mirror=True,
                               ticks="", zeroline=False, automargin=False, ticklabelstandoff=-2,
                               tickfont=TF)
    # end labels (0 and 4) are nudged inside the frame, as in the original plot
    layout["yaxis" + n] = dict(domain=ydom, range=[0, 4], anchor="x" + n, tickvals=y_ticks,
                               ticktext=[""] + [str(v) for v in y_ticks[1:-1]] + [""],
                               showgrid=True, gridcolor="black", griddash=DASH, gridwidth=1.3,
                               showline=True, linecolor="black", linewidth=1.5, mirror="ticks",
                               ticks="inside", ticklen=12, tickwidth=1.5, tickcolor="black",
                               minor=dict(dtick=0.2, tick0=0, ticks="inside", ticklen=12, tickwidth=1.5,
                                          tickcolor="black", showgrid=False),
                               zeroline=False, automargin=False, ticklabelstandoff=2, tickfont=TF)
    annots.append(ann(str(y_ticks[0]), 59, t + ph - 5.5, 14, xanchor="right"))
    annots.append(ann(str(y_ticks[-1]), 59, t + 6, 14, xanchor="right"))
    fig.add_trace(go.Scatter(x=ot, y=ov, mode="lines", line=dict(color="black", width=1.1),
                             xaxis="x" + n, yaxis="y" + n, hoverinfo="skip"))
    fig.add_trace(go.Scatter(x=mt, y=mv, mode="lines", line=dict(color="#ff0000", width=1.1),
                             xaxis="x" + n, yaxis="y" + n, hoverinfo="skip"))

# inset scatter
layout["xaxis7"] = dict(domain=[fx(712.3), fx(846.7)], range=[0, 5], anchor="y7", tickvals=inset_ticks,
                        showline=True, linecolor="black", linewidth=1.5, mirror="ticks", ticks="inside",
                        ticklen=5, tickwidth=1.2, tickcolor="black", showgrid=False, zeroline=False,
                        automargin=False, ticklabelstandoff=-1, tickfont=TF)
layout["yaxis7"] = dict(domain=[fy(920.3), fy(821.3)], range=[0, 5], anchor="x7", tickvals=inset_ticks,
                        ticktext=[""] + [str(v) for v in inset_ticks[1:-1]] + [""],
                        showline=True, linecolor="black", linewidth=1.5, mirror="ticks", ticks="inside",
                        ticklen=5, tickwidth=1.2, tickcolor="black", showgrid=False, zeroline=False,
                        automargin=False, ticklabelstandoff=2, tickfont=TF)
annots.append(ann(str(inset_ticks[0]), 709, 915, 14, xanchor="right"))
annots.append(ann(str(inset_ticks[-1]), 709, 826, 14, xanchor="right"))
fig.add_trace(go.Scatter(x=sc_model, y=sc_obs, mode="markers", xaxis="x7", yaxis="y7", hoverinfo="skip",
                         marker=dict(symbol="cross-thin", size=5, line=dict(color="black", width=1))))
fig.add_trace(go.Scatter(x=[inset_ticks[0], inset_ticks[-1]], y=[inset_ticks[0], inset_ticks[-1]], mode="lines",
                         line=dict(color="black", width=1.4), xaxis="x7", yaxis="y7", hoverinfo="skip"))

annots += [
    ann("nc_files/s201935212.out1.nc", 88, 36, 12.8),
    ann("https://coastwatch.glerl.noaa.gov/marobs/", 88, 50, 12.8),
    ann("45001, 2019, Central Lake Superior", 88, 77, 15.8),
    ann("Latest: 12/18/2019 (352) 12:00 GMT", 858, 35, 14, xanchor="right"),
    ann("red = Model,", 621, 50, 14, color="#ff0000"),
    ann("black = Buoy data", 729, 50, 14),
    ann(stats_lines[0], 517, 831, 13.6),
    ann(stats_lines[1], 517, 846, 13.6),
    ann("Model", 779, 948.5, 14.5, xanchor="center"),
    ann("Obs", 687, 869, 14.5, xanchor="center", angle=-90),
    ann("Wave Height (m)", 37, 93, 14, xanchor="center", angle=-90),
    ann("Day of Year 2019 (GMT)", 468, 983, 14, xanchor="center"),
    ann("generated Tue Dec 31 07:38:31 2019, NOAA/GLERL", 8.5, 993, 12.4),
]
layout["annotations"] = annots
fig.update_layout(**layout)
fig.write_html("out.html")
